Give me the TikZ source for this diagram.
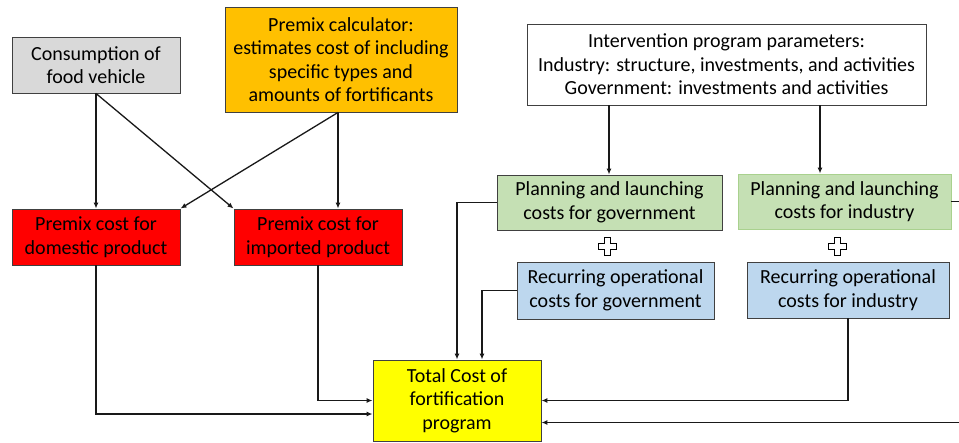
\documentclass[tikz,border=0pt]{standalone}
\usepackage{fontspec}
\setmainfont{Carlito}
\usetikzlibrary{arrows.meta,calc}
\definecolor{cgray}{HTML}{D9D9D9}
\definecolor{corange}{HTML}{FFC000}
\definecolor{cred}{HTML}{FF0000}
\definecolor{cgreen}{HTML}{C5E0B4}
\definecolor{cblue}{HTML}{BDD7EE}
\definecolor{cyellow}{HTML}{FFFF00}
\definecolor{cborder}{HTML}{404040}
\definecolor{cgborder}{HTML}{A9D18E}
\tikzset{
  box/.style={draw=cborder, line width=0.9pt, rectangle, align=center, inner sep=0pt,
    font=\fontsize{20}{23.5}\selectfont, text=black},
  conn/.style={line width=1.3pt, draw=black!90, -{Latex[length=6pt,width=5pt]}},
  line/.style={line width=1.3pt, draw=black!90},
  plus/.style={draw=black, line width=0.9pt, fill=white}
}
\newcommand{\plussign}[2]{%
  \draw[plus] (#1-3,#2-9) -- (#1+3,#2-9) -- (#1+3,#2-3) -- (#1+9,#2-3) -- (#1+9,#2+3)
    -- (#1+3,#2+3) -- (#1+3,#2+9) -- (#1-3,#2+9) -- (#1-3,#2+3) -- (#1-9,#2+3)
    -- (#1-9,#2-3) -- (#1-3,#2-3) -- cycle;}
\begin{document}
\begin{tikzpicture}[x=1pt,y=-1pt]
\useasboundingbox (0,0) rectangle (959,442);
\fill[white] (0,0) rectangle (959,442);
% boxes
\node[box, fill=cgray, minimum width=168pt, minimum height=56pt] (cons) at (96,65) {Consumption of\\food vehicle};
\node[box, fill=corange, minimum width=232pt, minimum height=105pt] (calc) at (341,59.5) {Premix calculator:\\estimates cost of including\\specific types and\\amounts of fortificants};
\node[box, fill=cred, minimum width=168pt, minimum height=56pt] (dom) at (96,237) {Premix cost for\\domestic product};
\node[box, fill=cred, minimum width=168pt, minimum height=56pt] (imp) at (318,237) {Premix cost for\\imported product};
\node[box, fill=white, minimum width=399pt, minimum height=81pt] (interv) at (726.5,64.5) {Intervention program parameters:\\Industry: structure, investments, and activities\\Government: investments and activities};
\node[box, fill=cgreen, minimum width=225pt, minimum height=55pt] (plang) at (609.5,202.5) {Planning and launching\\costs for government};
\node[box, fill=cgreen, draw=cgborder, minimum width=213pt, minimum height=55pt] (plani) at (844.5,201.5) {Planning and launching\\costs for industry};
\node[box, fill=cblue, minimum width=197pt, minimum height=57pt] (recg) at (615.5,290.5) {Recurring operational\\costs for government};
\node[box, fill=cblue, minimum width=202pt, minimum height=56pt] (reci) at (848,290) {Recurring operational\\costs for industry};
\node[box, fill=cyellow, minimum width=168pt, minimum height=81pt] (total) at (457,400.5) {Total Cost of\\fortification\\program};
% plus signs
\plussign{607}{246}
\plussign{837}{246}
% connectors
\draw[conn] (cons.south) -- (dom.north);
\draw[conn] (cons.south) -- (imp.north west);
\draw[conn] ([xshift=-3pt]calc.south) -- (dom.north east);
\draw[conn] ([xshift=-3pt]calc.south) -- ([xshift=-3pt]calc.south |- imp.north);
\coordinate (pg) at (609,0);
\coordinate (pi) at (820,0);
\draw[conn] (pg |- interv.south) -- (pg |- plang.north);
\draw[conn] (pi |- interv.south) -- (pi |- plani.north);
\draw[conn] (plang.west) -| (total.north);
\draw[conn] (recg.west) -| ([xshift=25pt]total.north);
\draw[conn] (reci.south) |- (total.east);
\draw[conn] (plani.east) -- ++(12,0) |- ([yshift=-22pt]total.east);
\draw[conn] (dom.south) |- ([yshift=-13.5pt]total.west);
\draw[conn] (imp.south) |- (total.west);
\end{tikzpicture}
\end{document}
